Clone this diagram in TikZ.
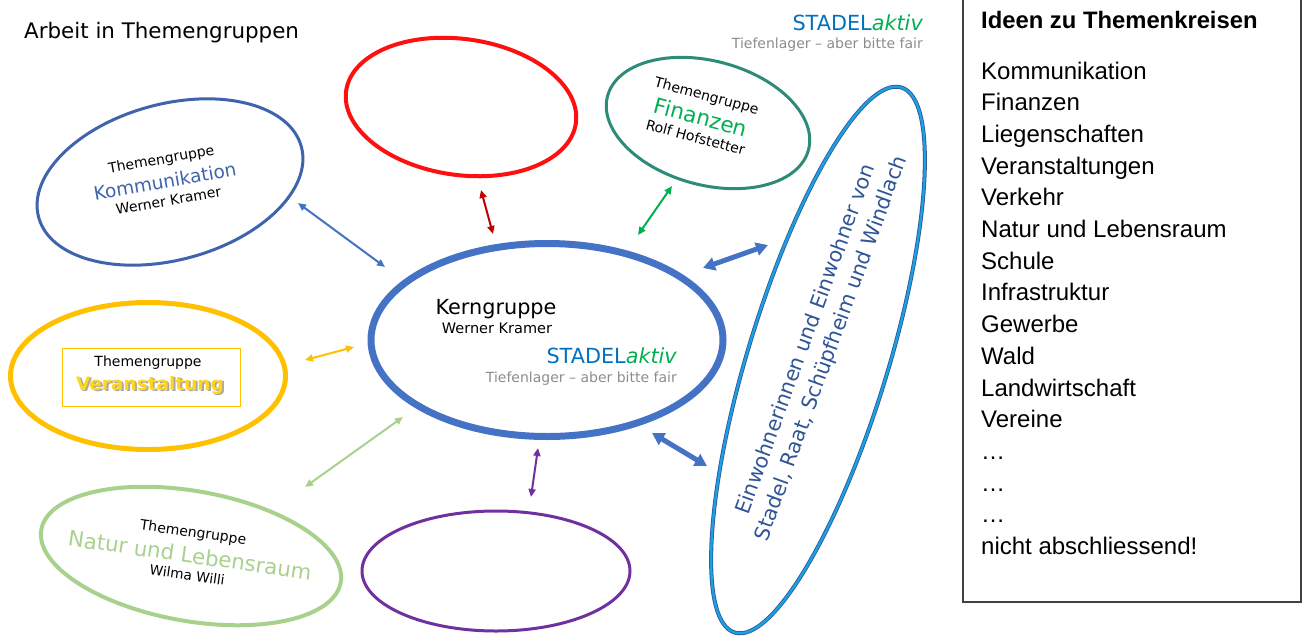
\documentclass[tikz,border=0pt]{standalone}
\usepackage{fontspec}
\setmainfont{DejaVu Sans}
\newfontfamily\arialfont{Liberation Sans}
\usetikzlibrary{shapes.geometric,arrows.meta}
\definecolor{kblue}{HTML}{4472C4}
\definecolor{kommblue}{HTML}{3F63AD}
\definecolor{redring}{HTML}{FF1010}
\definecolor{darkred}{HTML}{C00000}
\definecolor{teal}{HTML}{2E8B78}
\definecolor{fgreen}{HTML}{00B050}
\definecolor{gold}{HTML}{FFC000}
\definecolor{vyellow}{HTML}{FFD520}
\definecolor{lgreen}{HTML}{A9D18E}
\definecolor{purp}{HTML}{7030A0}
\definecolor{skyblue}{HTML}{1BA1E2}
\definecolor{navy}{HTML}{2F5597}
\definecolor{stblue}{HTML}{0070C0}
\definecolor{tgray}{HTML}{8C8C8C}
\definecolor{boxgray}{HTML}{404040}
\definecolor{shadowgray}{HTML}{A6A6A6}
\begin{document}
\begin{tikzpicture}[x=1pt,y=-1pt,
  ring/.style={ellipse, draw, inner sep=0pt},
  fz/.style={font=\fontsize{#1}{#1}\selectfont},
  lbl/.style={inner sep=0pt, transform shape},
  thin arrow/.style={{Triangle[length=8pt,width=7pt]}-{Triangle[length=8pt,width=7pt]}, line width=2pt},
  thick arrow/.style={{Triangle[length=12pt,width=13pt]}-{Triangle[length=12pt,width=13pt]}, line width=5pt, draw=kblue},
  listitem/.style={anchor=base west, inner sep=0pt, font=\arialfont\fontsize{24}{24}\selectfont}
]
\useasboundingbox (0,0) rectangle (1307,635);

% title
\node[anchor=base west, inner sep=0pt, fz=21.4] (title) at (24,38) {Arbeit in Themengruppen};

% logo top right
\node[anchor=base east, inner sep=0pt, fz=20.8] (logo1) at (923,30) {\textcolor{stblue}{STADEL}\textcolor{fgreen}{\itshape aktiv}};
\node[anchor=base east, inner sep=0pt, fz=14, text=tgray] (logo2) at (923,48) {Tiefenlager – aber bitte fair};

% Kommunikation
\node[ring, draw=kommblue, line width=3pt, minimum width=272pt, minimum height=156pt, rotate=15] (komm) at (170,182) {};
\begin{scope}[shift={(165,181)}, rotate=10]
  \node[lbl, fz=14] (kommA) at (0,-21) {Themengruppe};
  \node[lbl, fz=18.5, text=kommblue] (kommB) at (0,0) {Kommunikation};
  \node[lbl, fz=14] (kommC) at (0,20) {Werner Kramer};
\end{scope}

% red
\node[ring, draw=redring, line width=4pt, minimum width=232pt, minimum height=136pt, rotate=-8] (red) at (461,107) {};

% Finanzen
\node[ring, draw=teal, line width=3pt, minimum width=208pt, minimum height=124pt, rotate=-15] (fin) at (708,123) {};
\begin{scope}[shift={(701,117)}, rotate=-15]
  \node[lbl, fz=14] (finA) at (0,-21) {Themengruppe};
  \node[lbl, fz=21.5, text=fgreen] (finB) at (0,0) {Finanzen};
  \node[lbl, fz=14] (finC) at (0,21) {Rolf Hofstetter};
\end{scope}

% Kerngruppe
\node[ring, draw=kblue, line width=7pt, minimum width=352pt, minimum height=193pt] (kern) at (547,340) {};
\node[anchor=base, inner sep=0pt, fz=20.8] (kernA) at (496,314) {Kerngruppe};
\node[anchor=base, inner sep=0pt, fz=14.5] (kernB) at (497,333) {Werner Kramer};
\node[anchor=base east, inner sep=0pt, fz=20.8] (kernC) at (677,363) {\textcolor{stblue}{STADEL}\textcolor{fgreen}{\itshape aktiv}};
\node[anchor=base east, inner sep=0pt, fz=14, text=tgray] (kernD) at (677,382) {Tiefenlager – aber bitte fair};

% Veranstaltung
\node[ring, draw=gold, line width=5pt, minimum width=275pt, minimum height=147pt] (ver) at (148,376) {};
\node[draw=gold, line width=0.8pt, minimum width=178pt, minimum height=58pt, inner sep=0pt] (verbox) at (151,377) {};
\node[anchor=base, inner sep=0pt, fz=14] (verA) at (148,366) {Themengruppe};
\node[anchor=base, inner sep=0pt, text=shadowgray, font=\bfseries\fontsize{18.5}{18.5}\selectfont] (verS) at (151.8,391.8) {Veranstaltung};
\node[anchor=base, inner sep=0pt, text=vyellow, font=\bfseries\fontsize{18.5}{18.5}\selectfont] (verB) at (150,390) {Veranstaltung};

% Natur
\node[ring, draw=lgreen, line width=4pt, minimum width=304pt, minimum height=130pt, rotate=-10] (nat) at (191,556) {};
\begin{scope}[shift={(190,555)}, rotate=-8]
  \node[lbl, fz=14] (natA) at (0,-22) {Themengruppe};
  \node[lbl, fz=21.3, text=lgreen] (natB) at (0,0) {Natur und Lebensraum};
  \node[lbl, fz=13.7] (natC) at (0,20) {Wilma Willi};
\end{scope}

% purple
\node[ring, draw=purp, line width=3pt, minimum width=268pt, minimum height=120pt] (pur) at (496,571) {};

% Einwohner
\node[ring, draw=navy, line width=4pt, minimum width=570pt, minimum height=140pt, rotate=73] (einw) at (818,360) {};
\node[ring, draw=skyblue, line width=2.4pt, minimum width=570pt, minimum height=140pt, rotate=73] (einwB) at (818,360) {};
\node[inner sep=0pt, rotate=70, align=center, text=navy, font=\fontsize{20.6}{26.5}\selectfont] (einwT) at (819,344) {Einwohnerinnen und Einwohner von\\Stadel, Raat, Schüpfheim und Windlach};

% connector end points
\coordinate (k1) at (298,203); \coordinate (k2) at (385,267);
\coordinate (r1) at (481,190); \coordinate (r2) at (493,234);
\coordinate (f1) at (672,186); \coordinate (f2) at (638,235);
\coordinate (v1) at (305,360); \coordinate (v2) at (354,347);
\coordinate (n1) at (305,487); \coordinate (n2) at (403,417);
\coordinate (p1) at (538,448); \coordinate (p2) at (531,497);
\coordinate (e1) at (703,268); \coordinate (e2) at (768,245);
\coordinate (e3) at (652,433); \coordinate (e4) at (707,466);

\draw[thin arrow, draw=kblue] (k1) -- (k2);
\draw[thin arrow, draw=darkred] (r1) -- (r2);
\draw[thin arrow, draw=fgreen] (f1) -- (f2);
\draw[thin arrow, draw=gold] (v1) -- (v2);
\draw[thin arrow, draw=lgreen] (n1) -- (n2);
\draw[thin arrow, draw=purp] (p1) -- (p2);
\draw[thick arrow] (e1) -- (e2);
\draw[thick arrow] (e3) -- (e4);

% right box
\draw[boxgray, line width=1.3pt] (963,-3) rectangle (1301,602);
\node[anchor=base west, inner sep=0pt, font=\arialfont\bfseries\fontsize{23.8}{23.8}\selectfont] (ideen) at (981,28) {Ideen zu Themenkreisen};
\node[listitem] (i1) at (981,79) {Kommunikation};
\node[listitem] (i2) at (981,110.7) {Finanzen};
\node[listitem] (i3) at (981,142.4) {Liegenschaften};
\node[listitem] (i4) at (981,174.1) {Veranstaltungen};
\node[listitem] (i5) at (981,205.8) {Verkehr};
\node[listitem] (i6) at (981,237.5) {Natur und Lebensraum};
\node[listitem] (i7) at (981,269.2) {Schule};
\node[listitem] (i8) at (981,300.9) {Infrastruktur};
\node[listitem] (i9) at (981,332.6) {Gewerbe};
\node[listitem] (i10) at (981,364.3) {Wald};
\node[listitem] (i11) at (981,396) {Landwirtschaft};
\node[listitem] (i12) at (981,427.7) {Vereine};
\node[listitem] (i13) at (981,459.4) {…};
\node[listitem] (i14) at (981,491.1) {…};
\node[listitem] (i15) at (981,522.8) {…};
\node[listitem] (i16) at (981,554.5) {nicht abschliessend!};
\end{tikzpicture}
\end{document}
